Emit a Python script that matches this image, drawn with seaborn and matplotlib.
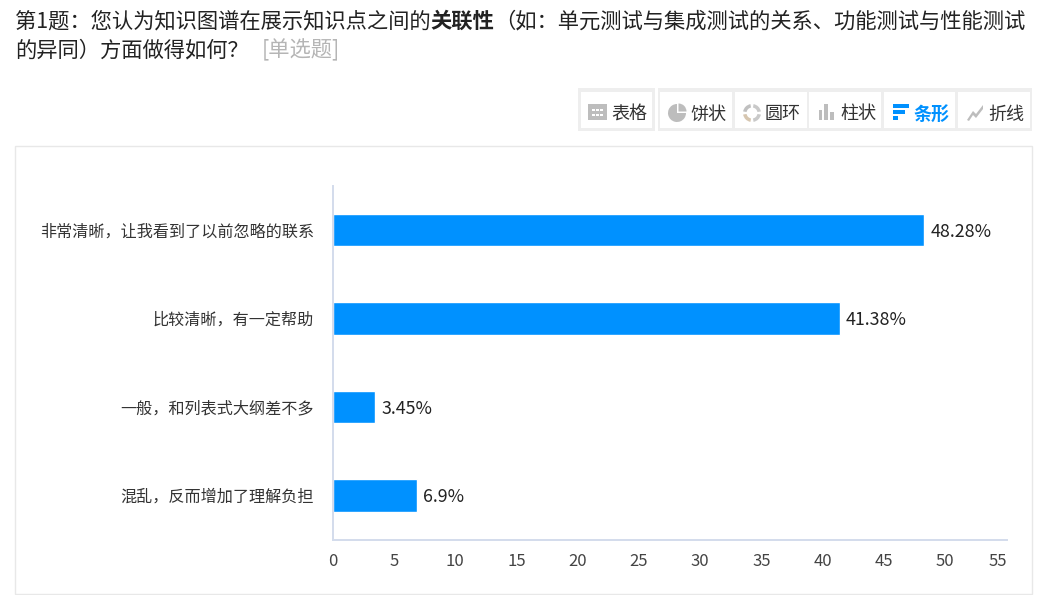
import matplotlib
matplotlib.use('Agg')
import matplotlib.pyplot as plt
from matplotlib.patches import Rectangle, Wedge, Polygon
import pandas as pd
import seaborn as sns

categories = ['非常清晰，让我看到了以前忽略的联系', '比较清晰，有一定帮助', '一般，和列表式大纲差不多', '混乱，反而增加了理解负担']
percents = [48.28, 41.38, 3.45, 6.9]
x_ticks = [0, 5, 10, 15, 20, 25, 30, 35, 40, 45, 50, 55]
title_line1 = [('第1题：您认为知识图谱在展示知识点之间的', 'normal'), ('关联性', 'bold'),
               ('（如：单元测试与集成测试的关系、功能测试与性能测试', 'normal')]
title_line2 = '的异同）方面做得如何？'
question_type = '[单选题]'
buttons = ['表格', '饼状', '圆环', '柱状', '条形', '折线']

BLUE = '#0091ff'
GREY = '#bdbdbd'
W, H = 1043, 595

sns.set_theme(style='white')
plt.rcParams['font.family'] = ['Noto Sans CJK SC', 'DejaVu Sans']

fig = plt.figure(figsize=(W / 100, H / 100), dpi=100, facecolor='white')

# page layer, in pixel coordinates
page = fig.add_axes([0, 0, 1, 1], zorder=0)
page.set_xlim(0, W)
page.set_ylim(H, 0)
page.axis('off')


def box(x0, y0, x1, y1, **kw):
    page.add_patch(Rectangle((x0, y0), x1 - x0, y1 - y0, **kw))


# title, bold run placed after the measured normal run
renderer = fig.canvas.get_renderer()
x = 15
for run, weight in title_line1:
    t = page.text(x, 21, run, fontsize=15.35, fontweight=weight, color='#222222', va='center', ha='left')
    x = page.transData.inverted().transform(t.get_window_extent(renderer))[1][0]
t = page.text(15, 50, title_line2, fontsize=15.35, color='#222222', va='center', ha='left')
page.text(262, 50, question_type, fontsize=15.35, color='#b5b5b5', va='center', ha='left')

# toolbar
box(578, 88, 655, 131, fc='#eeeeee', ec='none')
box(658, 88, 1032, 131, fc='#eeeeee', ec='none')
button_x = [(581, 652), (660, 732), (735, 807), (809, 881), (884, 955), (958, 1030)]
text_x = [629, 708.5, 783, 858, 931.5, 1006.5]
for i, label in enumerate(buttons):
    box(button_x[i][0], 92, button_x[i][1], 128, fc='white', ec='none')
    page.text(text_x[i], 114.5, label, fontsize=13, color=BLUE if label == '条形' else '#333333',
              fontweight='bold' if label == '条形' else 'normal', ha='center', va='center')

# icons
box(588, 104, 607, 120, fc=GREY, ec='none')
for r in (109, 114):
    for c in (592, 596, 600):
        box(c, r, c + 2.5, r + 1.5, fc='white', ec='none')
page.add_patch(Wedge((677, 113), 9, 0, 270, fc=GREY, ec='none'))
page.add_patch(Wedge((678.5, 111.5), 8, 270, 360, fc=GREY, ec='none'))
for a, b, col in [(-80, -10, '#c9c9c9'), (10, 80, '#c9c9c9'), (100, 170, '#d6c6b0'), (190, 260, '#c0c0c0')]:
    page.add_patch(Wedge((752, 113), 9, a, b, width=3.5, fc=col, ec='none'))
box(819, 110, 822, 120, fc=GREY, ec='none')
box(824, 104, 828, 120, fc=GREY, ec='none')
box(830, 112, 834, 120, fc=GREY, ec='none')
box(893, 104, 909, 108, fc=BLUE, ec='none')
box(893, 110, 905, 114, fc=BLUE, ec='none')
box(893, 116, 898, 120, fc=BLUE, ec='none')
page.add_patch(Polygon([(967, 120), (973, 111), (976, 114), (983, 105), (983, 109), (976, 118), (973, 115), (969, 121)],
                       fc=GREY, ec='none'))

# chart card
box(15, 146, 1032, 594, fc='white', ec='#e8e8e8', lw=1)

# chart
ax = fig.add_axes([332.6 / W, 1 - 539.6 / H, (1006.6 - 332.6) / W, (539.6 - 185.6) / H], zorder=1)
ax.patch.set_alpha(0)
df = pd.DataFrame({'category': categories, 'percent': percents})
sns.barplot(data=df, x='percent', y='category', color=BLUE, saturation=1, width=0.365, ax=ax)
ax.set_xlim(0, 55)
ax.set_xticks(x_ticks)
ax.set_xlabel('')
ax.set_ylabel('')
ax.tick_params(axis='x', length=0, pad=9.5, labelsize=12, labelcolor='#444444')
ax.tick_params(axis='y', length=0, pad=13.5, labelsize=11.6, labelcolor='#333333')
# last tick label is pulled inside the axis end
ax.get_xticklabels()[-1].set_ha('right')
sns.despine(ax=ax)
for side in ('left', 'bottom'):
    ax.spines[side].set_color('#d3dcec')
    ax.spines[side].set_linewidth(1.4)
for container in ax.containers:
    value_labels = ax.bar_label(container, labels=[f'{v:g}%' for v in percents], padding=4.5, fontsize=12.8, color='#222222')
    for lab in value_labels:
        lab.set_va('center_baseline')

fig.savefig('out.png', dpi=100)
